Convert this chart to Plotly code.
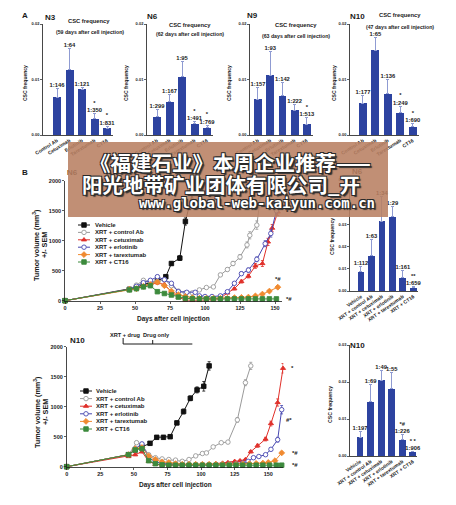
import plotly.graph_objects as go

W, H = 456, 505
FONT = "Liberation Sans, Arial, sans-serif"
INK = "#1a1a1a"
BLUE = "#2d43a0"
ERRC = "#8f9bd2"

# ---------------- Panel A data ----------------
A_groups = ["Control Ab", "Cetuximab", "Erlotinib", "Tarextumab", "CT16"]
A_names = ["N3", "N6", "N9", "N10"]
A_days = ["(59 days after cell injection)", "(62 days after cell injection)",
          "(63 days after cell injection)", "(47 days after cell injection)"]
n3_freq = [0.0068, 0.0118, 0.0082, 0.0029, 0.0012]
n3_top = [0.0084, 0.0156, 0.0086, 0.0038, 0.0016]
n3_lab = ["1:146", "1:64", "1:121", "*<br>1:350", "*<br>1:831"]
n6_freq = [0.0033, 0.0060, 0.0105, 0.0020, 0.0013]
n6_top = [0.0046, 0.0073, 0.0133, 0.0024, 0.0018]
n6_lab = ["1:299", "1:167", "1:95", "*<br>1:491", "*<br>1:769"]
n9_freq = [0.0064, 0.0108, 0.0071, 0.0045, 0.0019]
n9_top = [0.0086, 0.0151, 0.0095, 0.0055, 0.0031]
n9_lab = ["1:157", "1:93", "1:142", "1:222", "*<br>1:513"]
n10a_freq = [0.0057, 0.0153, 0.0074, 0.0040, 0.0015]
n10a_top = [0.0072, 0.0175, 0.0100, 0.0052, 0.0020]
n10a_lab = ["1:177", "1:65", "1:136", "*<br>1:249", "*<br>1:690"]
A_ticks = [0, 0.01, 0.02]
A_ticktext = ["0.00", "0.01", "0.02"]

# ---------------- Panel B bar data ----------------
B_groups = ["Vehicle", "XRT + control Ab", "XRT + cetuximab", "XRT + erlotinib",
            "XRT + tarextumab", "XRT + CT16"]
b6_freq = [0.0087, 0.0157, 0.0312, 0.0334, 0.0060, 0.0015]
b6_top = [0.0109, 0.0233, 0.0424, 0.0379, 0.0090, 0.0019]
b6_lab = ["1:112", "1:63", "1:34", "1:29", "1:161", "**<br>1:659"]
b10_freq = [0.0051, 0.0146, 0.0205, 0.0182, 0.0044, 0.0011]
b10_top = [0.0066, 0.0194, 0.0230, 0.0227, 0.0057, 0.0012]
b10_lab = ["1:197", "1:69", "1:49", "1:55", "*#<br>1:226", "* *<br>1:906"]
b6_ticks = [0, 0.01, 0.02, 0.03, 0.04, 0.05]
b6_ticktext = ["0.00", "0.01", "0.02", "0.03", "0.04", "0.05"]
b10_ticks = [0, 0.01, 0.02, 0.03]
b10_ticktext = ["0.00", "0.01", "0.02", "0.03"]

# ---------------- Panel B growth curves ----------------
series_names = ["Vehicle", "XRT + control Ab", "XRT + cetuximab", "XRT + erlotinib",
                "XRT + tarextumab", "XRT + CT16"]
# N6
veh6_d = [0, 46, 51, 56, 61, 66, 72, 76, 82, 86, 91, 93]
veh6_v = [0, 190, 220, 270, 300, 330, 400, 620, 710, 1320, 1790, 1980]
veh6_e = [0, 15, 20, 20, 25, 25, 30, 30, 40, 60, 80, 0]
ctl6_d = [0, 46, 51, 56, 61, 66, 71, 76, 81, 86, 91, 96, 101, 106, 111, 116, 120, 125, 130, 132, 137, 140]
ctl6_v = [0, 190, 260, 340, 320, 320, 350, 250, 160, 130, 130, 180, 220, 230, 430, 520, 620, 730, 930, 1090, 1260, 1800]
ctl6_e = [0, 15, 20, 25, 20, 20, 25, 20, 15, 10, 10, 15, 15, 15, 25, 30, 35, 40, 50, 60, 70, 80]
cet6_d = [0, 46, 51, 56, 61, 66, 71, 76, 81, 86, 91, 96, 101, 106, 111, 116, 121, 126, 131, 136, 141, 145, 148, 152]
cet6_v = [0, 180, 210, 250, 280, 300, 270, 150, 60, 10, 5, 5, 10, 20, 40, 130, 200, 320, 410, 580, 620, 980, 1210, 1480]
cet6_e = [0, 15, 15, 20, 20, 25, 20, 15, 10, 5, 5, 5, 5, 5, 10, 15, 20, 25, 30, 40, 50, 60, 60, 60]
erl6_d = [0, 46, 51, 56, 61, 66, 71, 76, 81, 87, 93, 96, 100, 105, 111, 116, 121, 126, 131, 137, 143, 147, 151]
erl6_v = [0, 190, 240, 300, 340, 400, 350, 290, 150, 140, 140, 80, 70, 70, 80, 150, 290, 450, 510, 690, 950, 1120, 1500]
erl6_e = [0, 15, 20, 20, 25, 25, 25, 20, 15, 15, 15, 10, 10, 10, 10, 15, 25, 30, 35, 40, 50, 60, 60]
tar6_d = [0, 46, 51, 56, 61, 66, 71, 76, 81, 86, 91, 96, 101, 106, 111, 116, 121, 126, 131, 136, 141, 146, 152]
tar6_v = [0, 190, 200, 240, 270, 310, 250, 160, 100, 70, 50, 40, 40, 40, 40, 40, 50, 55, 60, 80, 110, 160, 225]
tar6_e = [0, 15, 15, 20, 20, 25, 20, 15, 10, 10, 5, 5, 5, 5, 5, 5, 5, 5, 5, 10, 10, 15, 20]
ct6_d = [0, 46, 51, 56, 61, 66, 71, 76, 81, 86, 91, 96, 101, 106, 111, 116, 121, 126, 131, 136, 141, 146, 151]
ct6_v = [0, 180, 200, 230, 250, 150, 120, 95, 60, 40, 35, 30, 30, 30, 30, 30, 30, 30, 30, 30, 30, 30, 30]
ct6_e = [0, 15, 15, 20, 20, 15, 10, 10, 5, 5, 5, 5, 5, 5, 5, 5, 5, 5, 5, 5, 5, 5, 5]
# N10
veh10_d = [0, 46, 51, 56, 62, 67, 72, 77, 82, 87, 92, 97, 102, 106]
veh10_v = [0, 200, 280, 330, 390, 490, 490, 500, 730, 920, 1140, 1280, 1340, 1680]
veh10_e = [0, 15, 20, 25, 30, 30, 30, 30, 30, 40, 40, 50, 80, 70]
ctl10_d = [0, 46, 52, 56, 61, 66, 71, 76, 81, 86, 91, 96, 101, 104, 109, 115, 120, 127, 133, 137]
ctl10_v = [0, 200, 400, 370, 200, 150, 130, 120, 110, 90, 120, 180, 220, 230, 330, 400, 410, 780, 1400, 1680]
ctl10_e = [0, 15, 25, 25, 15, 15, 10, 10, 10, 10, 10, 15, 15, 15, 20, 20, 25, 40, 50, 60]
cet10_d = [0, 46, 51, 56, 61, 66, 71, 76, 81, 86, 91, 96, 101, 106, 111, 116, 120, 125, 129, 133, 137, 142, 148, 152, 157, 161]
cet10_v = [0, 170, 200, 250, 90, 40, 30, 30, 30, 30, 30, 30, 30, 40, 50, 60, 70, 90, 100, 120, 250, 350, 460, 720, 1070, 1640]
cet10_e = [0, 15, 15, 20, 10, 5, 5, 5, 5, 5, 5, 5, 5, 5, 5, 10, 10, 10, 10, 15, 20, 25, 30, 40, 60, 80]
erl10_d = [0, 46, 51, 56, 61, 66, 71, 76, 81, 86, 91, 96, 101, 106, 111, 116, 121, 126, 131, 135, 139, 143, 148, 152, 157, 160]
erl10_v = [0, 200, 300, 380, 150, 80, 60, 50, 40, 35, 30, 30, 30, 30, 35, 40, 45, 50, 60, 90, 150, 170, 200, 290, 450, 950]
erl10_e = [0, 15, 20, 25, 15, 10, 5, 5, 5, 5, 5, 5, 5, 5, 5, 5, 5, 5, 10, 10, 15, 15, 20, 25, 40, 70]
tar10_d = [0, 46, 51, 56, 61, 66, 71, 76, 81, 86, 91, 96, 101, 106, 111, 116, 121, 126, 131, 136, 141, 146, 150, 155, 160]
tar10_v = [0, 200, 300, 320, 180, 120, 80, 70, 50, 40, 40, 40, 40, 40, 40, 40, 40, 40, 45, 50, 55, 60, 70, 100, 230]
tar10_e = [0, 15, 20, 20, 15, 10, 10, 5, 5, 5, 5, 5, 5, 5, 5, 5, 5, 5, 5, 5, 5, 5, 10, 10, 20]
ct10_d = [0, 46, 51, 56, 61, 66, 71, 76, 81, 86, 91, 96, 101, 106, 111, 116, 121, 126, 131, 136, 141, 146, 151, 156, 160]
ct10_v = [0, 200, 280, 300, 100, 50, 30, 25, 25, 25, 25, 25, 25, 25, 25, 25, 25, 25, 25, 25, 25, 25, 25, 25, 25]
ct10_e = [0, 15, 20, 20, 10, 5, 5, 5, 5, 5, 5, 5, 5, 5, 5, 5, 5, 5, 5, 5, 5, 5, 5, 5, 5]
vol_ticks = [0, 500, 1000, 1500, 2000]
day_ticks = [0, 25, 50, 75, 100, 125, 150]

# series styles: (line color, marker symbol, marker fill, marker line)
STY = [
    ("#111111", "square", "#111111", "#111111"),
    ("#9a9a9a", "circle", "#ffffff", "#9a9a9a"),
    ("#e0302a", "triangle-up", "#e0302a", "#e0302a"),
    ("#4747b0", "circle", "#ffffff", "#4747b0"),
    ("#f08a30", "diamond", "#f08a30", "#f08a30"),
    ("#3d8a3d", "square", "#3d8a3d", "#3d8a3d"),
]

# banner
banner_lines = ["《福建石业》本周企业推荐——", "阳光地带矿业团体有限公司_开", "www.global-web-kaiyun.com.cn"]


def xdom(a, b):
    return [a / W, b / W]


def ydom(top, bot):
    return [1 - bot / H, 1 - top / H]


def px(x):
    return x / W


def py(y):
    return 1 - y / H


fig = go.Figure()
layout_axes = {}
annotations = []
shapes = []

base_axis = dict(showgrid=False, zeroline=False, showline=True, linecolor=INK, linewidth=0.8,
                 ticks="outside", ticklen=2, tickwidth=0.7, tickcolor=INK, fixedrange=True,
                 automargin=False)


def ann(text, x, y, size, angle=0, xanchor="center", yanchor="middle", color=INK, family=FONT, **kw):
    d = dict(text=text, x=px(x), y=py(y), xref="paper", yref="paper", showarrow=False,
             font=dict(size=size, color=color, family=family, weight="bold"),
             textangle=angle, xanchor=xanchor, yanchor=yanchor)
    d.update(kw)
    annotations.append(d)


def bar_panel(idx, freq, top, labels, groups, xpx, ypx, xr, yr, ticks, ticktext, tickangle, tickfs, labfs):
    xa, ya = f"x{idx}", f"y{idx}"
    xs = list(range(len(freq)))
    fig.add_trace(go.Bar(
        x=xs, y=freq, width=0.64, marker=dict(color=BLUE, line=dict(width=0)),
        error_y=dict(type="data", symmetric=False, array=[t - f for t, f in zip(top, freq)],
                     arrayminus=[0] * len(freq), color=ERRC, thickness=1, width=1.5),
        xaxis=xa, yaxis=ya, hoverinfo="skip"))
    fig.add_trace(go.Scatter(
        x=xs, y=top, mode="text", text=labels, textposition="top center",
        textfont=dict(size=labfs, color=INK, family=FONT, weight="bold"),
        xaxis=xa, yaxis=ya, cliponaxis=False, hoverinfo="skip"))
    layout_axes[f"xaxis{idx}"] = dict(base_axis, domain=xdom(*xpx), range=xr, anchor=ya,
                                      tickvals=xs, ticktext=groups, tickangle=tickangle, ticks="",
                                      tickfont=dict(size=tickfs, family=FONT, color=INK, weight="bold"))
    layout_axes[f"yaxis{idx}"] = dict(base_axis, domain=ydom(*ypx), range=yr, anchor=xa,
                                      tickvals=ticks, ticktext=ticktext,
                                      tickfont=dict(size=4, family=FONT, color=INK, weight="bold"))


# ---- Panel A bar charts ----
A_sets = [(n3_freq, n3_top, n3_lab), (n6_freq, n6_top, n6_lab),
          (n9_freq, n9_top, n9_lab), (n10a_freq, n10a_top, n10a_lab)]
A_xpx = [(43, 113), (147, 213), (250, 313), (350, 419)]
A_xr = [[-1.12, 4.48], [-0.8, 4.48], [-0.65, 4.5], [-1.04, 4.5]]
for i, ((f, t, l), xp, xr) in enumerate(zip(A_sets, A_xpx, A_xr)):
    bar_panel(i + 1, f, t, l, A_groups, xp, (24, 135), xr, [0, 0.02], A_ticks, A_ticktext, -32, 5, 5.8)

# A labels
ann("A", 25, 15, 8)
name_pos = [(50, 17), (152, 16), (252, 15), (357, 16)]
t1_pos = [(89, 21), (190, 25), (296, 25), (400, 15)]
t2_pos = [(90, 32), (190, 34), (296, 36), (400, 27)]
ytitle_x = [25, 126, 229, 334]
for i in range(4):
    ann(A_names[i], *name_pos[i], 8)
    ann("CSC frequency", *t1_pos[i], 5.8)
    ann(A_days[i], *t2_pos[i], 5.2)
    ann("CSC frequency", ytitle_x[i], 83, 5, angle=-90)

# ---- Panel B growth curves ----
def growth_panel(idx, data, xpx, ypx, xr):
    xa, ya = f"x{idx}", f"y{idx}"
    for (d, v, e), (lc, sym, fc, mlc) in zip(data, STY):
        fig.add_trace(go.Scatter(
            x=d, y=v, mode="lines+markers",
            line=dict(color=lc, width=1),
            marker=dict(symbol=sym, size=4.5, color=fc, line=dict(color=mlc, width=0.9)),
            error_y=dict(type="data", array=e, color=lc, thickness=0.8, width=1.5),
            xaxis=xa, yaxis=ya, cliponaxis=False, hoverinfo="skip"))
    layout_axes[f"xaxis{idx}"] = dict(base_axis, domain=xdom(*xpx), range=xr, anchor=ya,
                                      tickvals=day_ticks,
                                      tickfont=dict(size=5.5, family=FONT, color=INK, weight="bold"))
    layout_axes[f"yaxis{idx}"] = dict(base_axis, domain=ydom(*ypx), range=[0, 2000], anchor=xa,
                                      tickvals=vol_ticks,
                                      tickfont=dict(size=5.5, family=FONT, color=INK, weight="bold"))


n6_data = [(veh6_d, veh6_v, veh6_e), (ctl6_d, ctl6_v, ctl6_e), (cet6_d, cet6_v, cet6_e),
           (erl6_d, erl6_v, erl6_e), (tar6_d, tar6_v, tar6_e), (ct6_d, ct6_v, ct6_e)]
n10_data = [(veh10_d, veh10_v, veh10_e), (ctl10_d, ctl10_v, ctl10_e), (cet10_d, cet10_v, cet10_e),
            (erl10_d, erl10_v, erl10_e), (tar10_d, tar10_v, tar10_e), (ct10_d, ct10_v, ct10_e)]
growth_panel(5, n6_data, (65, 282), (180.7, 300.7), [0, 155])
growth_panel(7, n10_data, (66.7, 283.3), (346.7, 466.7), [0, 161.2])

# ---- Panel B bar charts ----
bar_panel(6, b6_freq, b6_top, b6_lab, B_groups, (350, 418), (179.5, 291), [-1.05, 5.45],
          [0, 0.05], b6_ticks, b6_ticktext, -35, 5, 5.8)
bar_panel(8, b10_freq, b10_top, b10_lab, B_groups, (350, 417), (345, 456), [-0.95, 5.4],
          [0, 0.03], b10_ticks, b10_ticktext, -35, 5, 5.8)

# ---- canvas axis for legends and under-banner labels ----
layout_axes["xaxis9"] = dict(domain=[0, 1], range=[0, W], visible=False, fixedrange=True,
                             anchor="y9", automargin=False)
layout_axes["yaxis9"] = dict(domain=[0, 1], range=[H, 0], visible=False, fixedrange=True,
                             anchor="x9", automargin=False)


def legend_block(rows, x0, x1, xt):
    for name, yr, (lc, sym, fc, mlc) in zip(series_names, rows, STY):
        fig.add_trace(go.Scatter(x=[x0, x1], y=[yr, yr], mode="lines", line=dict(color=lc, width=1),
                                 xaxis="x9", yaxis="y9", hoverinfo="skip"))
        fig.add_trace(go.Scatter(x=[(x0 + x1) / 2], y=[yr], mode="markers",
                                 marker=dict(symbol=sym, size=4.5, color=fc, line=dict(color=mlc, width=0.9)),
                                 xaxis="x9", yaxis="y9", hoverinfo="skip"))
        ann(name, xt, yr, 6, xanchor="left")


legend_block([225, 232.4, 239.8, 247.2, 254.6, 262], 78, 90, 93)
legend_block([391, 398.6, 406.2, 413.8, 421.4, 429], 80, 92, 94)

# labels that sit under the banner (drawn as traces so the banner covers them)
fig.add_trace(go.Scatter(x=[72, 357], y=[173, 172], mode="text", text=["N6", "N6"],
                         textfont=dict(size=8, color=INK, family=FONT, weight="bold"),
                         xaxis="x9", yaxis="y9", hoverinfo="skip"))

ann("B", 25, 172, 8)
ann("N10", 77, 340, 8)
ann("N10", 357, 345, 8)
# axis titles
for (xa1, xa2, yc) in [(36, 44, 245), (37, 45, 412)]:
    ann("Tumor volume (mm<sup>3</sup>)", xa1, yc, 7.2, angle=-90)
    ann("+/- SEM", xa2, yc, 7.2, angle=-90)
ann("Days after cell injection", 173, 319, 6.5)
ann("Days after cell injection", 175, 485, 6.5)
ann("CSC frequency", 332, 237, 5.2, angle=-90)
ann("CSC frequency", 330, 405, 5.2, angle=-90)

# significance marks on growth curves
marks = [("x5", "y5", 152, 1480, "*", 6, 0), ("x5", "y5", 152, 225, "*#", 0, 8),
         ("x5", "y5", 151, 30, "*#", 8, 0),
         ("x7", "y7", 161, 1640, "*", 6, 0), ("x7", "y7", 160, 950, "#*", 2, -10),
         ("x7", "y7", 160, 230, "*#", 8, 0), ("x7", "y7", 160, 25, "*#", 8, 0)]
for xa, ya, xv, yv, t, xs, ys in marks:
    annotations.append(dict(text=t, x=xv, y=yv, xref=xa, yref=ya, showarrow=False,
                            xshift=xs, yshift=ys, xanchor="left" if xs > 0 else "center",
                            font=dict(size=6, color=INK, family=FONT, weight="bold")))

# treatment bracket on N10 curve
bx0, bx1, bmid = 42, 93.5, 64
shapes.append(dict(type="line", xref="x7", yref="paper", x0=bx0, x1=bx1, y0=py(344), y1=py(344),
                   line=dict(color=INK, width=1)))
shapes.append(dict(type="line", xref="x7", yref="paper", x0=bx0, x1=bx0, y0=py(338), y1=py(344),
                   line=dict(color=INK, width=1)))
shapes.append(dict(type="line", xref="x7", yref="paper", x0=bmid, x1=bmid, y0=py(340), y1=py(344),
                   line=dict(color=INK, width=1)))
ann("XRT + drug", 125, 335, 5.6)
ann("Drug only", 156, 335, 5.6)

# ---- banner overlay ----
shapes.append(dict(type="rect", xref="paper", yref="paper", x0=px(68), x1=px(388), y0=py(217), y1=py(142),
                   fillcolor="rgba(184,128,98,0.88)", line=dict(width=0), layer="above"))
SH = "1px 1px 0 #2a2a2a, -1px -1px 0 #2a2a2a, 1px -1px 0 #2a2a2a, -1px 1px 0 #2a2a2a, 2px 2px 1px #333"
for txt, (cx, cy), fs, fam in zip(banner_lines, [(231, 162), (221, 184), (257, 203)], [20.5, 20.5, 14],
                                  ["Noto Sans CJK SC", "Noto Sans CJK SC", "DejaVu Sans Mono"]):
    annotations.append(dict(text=txt, x=px(cx), y=py(cy), xref="paper", yref="paper", showarrow=False,
                            xanchor="center", yanchor="middle",
                            font=dict(size=fs, color="#ffffff", family=fam, weight="bold", shadow=SH)))

fig.update_layout(
    width=W, height=H, margin=dict(l=0, r=0, t=0, b=0, pad=0, autoexpand=False),
    paper_bgcolor="white", plot_bgcolor="rgba(0,0,0,0)",
    font=dict(family=FONT, size=6, color=INK, weight="bold"),
    showlegend=False, annotations=annotations, shapes=shapes, bargap=0,
    **layout_axes)

fig.write_html("out.html", config={"displayModeBar": False, "staticPlot": True},
               post_script="document.body.style.margin='0';document.body.style.overflow='hidden';")
